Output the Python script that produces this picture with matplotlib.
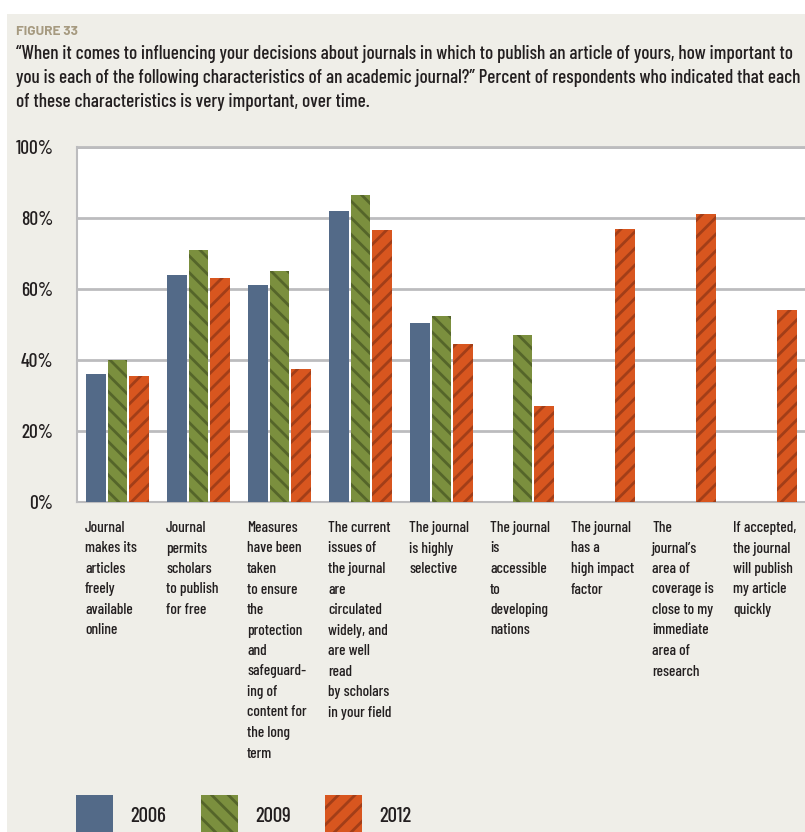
import matplotlib
matplotlib.use("Agg")
import matplotlib.pyplot as plt
from matplotlib.patches import Rectangle
import numpy as np

plt.rcParams['font.family'] = ['Barlow Condensed', 'Liberation Sans', 'DejaVu Sans']
plt.rcParams['font.weight'] = 500
plt.rcParams['hatch.linewidth'] = 2.0

categories = [
    "Journal\nmakes its\narticles\nfreely\navailable\nonline",
    "Journal\npermits\nscholars\nto publish\nfor free",
    "Measures\nhave been\ntaken\nto ensure\nthe\nprotection\nand\nsafeguard-\ning of\ncontent for\nthe long\nterm",
    "The current\nissues of\nthe journal\nare\ncirculated\nwidely, and\nare well\nread\nby scholars\nin your field",
    "The journal\nis highly\nselective",
    "The journal\nis\naccessible\nto\ndeveloping\nnations",
    "The journal\nhas a\nhigh impact\nfactor",
    "The\njournal\u2019s\narea of\ncoverage is\nclose to my\nimmediate\narea of\nresearch",
    "If accepted,\nthe journal\nwill publish\nmy article\nquickly",
]
years = ["2006", "2009", "2012"]
v2006 = [36, 64, 61, 82, 50.5, np.nan, np.nan, np.nan, np.nan]
v2009 = [40, 71, 65, 86.5, 52.5, 47, np.nan, np.nan, np.nan]
v2012 = [35.5, 63, 37.5, 76.5, 44.5, 27, 77, 81, 54]
yticks = [0, 20, 40, 60, 80, 100]

title_lines = [
    "\u201cWhen it comes to influencing your decisions about journals in which to publish an article of yours, how important to",
    "you is each of the following characteristics of an academic journal?\u201d Percent of respondents who indicated that each",
    "of these characteristics is very important, over time.",
]

BEIGE = '#efeee8'
BLUE = '#536a88'
GREEN = '#7b8f3e'
GREEN_H = '#55652a'
ORANGE = '#d8561f'
ORANGE_H = '#a23e18'
TXT = '#231f20'
GRID = '#bcbcbe'

W, H = 805, 832
fig = plt.figure(figsize=(W / 100, H / 100), dpi=100, facecolor='white')
fig.patches.append(Rectangle((7 / W, 0), 1, (H - 14) / H, transform=fig.transFigure,
                             facecolor=BEIGE, edgecolor='none', zorder=-10))


def py(y):
    # pixel row from the top -> figure fraction
    return 1 - y / H


# header
fig.text(16 / W, py(35), "FIGURE 33", fontsize=9.8, fontweight='bold',
         family=['Barlow', 'DejaVu Sans'], color='#a69a80', va='baseline', ha='left')
for k, line in enumerate(title_lines):
    fig.text(16 / W, py(59 + 24 * k), line, fontsize=13.8, color=TXT,
             va='baseline', ha='left')

ax = fig.add_axes([77 / W, (H - 502) / H, 729 / W, 355 / H])
ax.set_facecolor('white')

x = np.arange(len(categories))
bw = 0.245
off = 0.262
ax.bar(x - off, v2006, bw, color=BLUE, linewidth=0, zorder=3)
ax.bar(x, v2009, bw, color=GREEN, edgecolor=GREEN_H, hatch='\\\\', linewidth=0, zorder=3)
ax.bar(x + off, v2012, bw, color=ORANGE, edgecolor=ORANGE_H, hatch='//', linewidth=0, zorder=3)

ax.set_xlim(-0.5, len(categories) - 0.5)
ax.set_ylim(0, 100)
ax.set_yticks(yticks)
ax.set_yticklabels([f"{t}%" for t in yticks], fontsize=14, color=TXT)
ax.tick_params(axis='y', length=0, pad=17)
ax.set_xticks([])
ax.grid(axis='y', color=GRID, linewidth=2, zorder=1)
for s in ['left', 'top', 'bottom']:
    ax.spines[s].set_color(GRID)
    ax.spines[s].set_linewidth(1.5)
ax.spines['right'].set_visible(False)
ax.spines['top'].set_linewidth(2)

# category labels, left-aligned under each group, one row per line
for i, lab in enumerate(categories):
    gx = 85 + 81 * i
    for k, line in enumerate(lab.split("\n")):
        fig.text(gx / W, py(532 + 20.5 * k), line, fontsize=11.1, color=TXT,
                 va='baseline', ha='left')

# legend
items = [(BLUE, None, None), (GREEN, GREEN_H, '\\\\'), (ORANGE, ORANGE_H, '//')]
lx = [76, 201, 325]
for (fc, hc, hatch), px, yr in zip(items, lx, years):
    fig.patches.append(Rectangle((px / W, 0), 37 / W, 37 / H, transform=fig.transFigure,
                                 facecolor=fc, edgecolor=hc if hc else fc, hatch=hatch,
                                 linewidth=0))
    fig.text((px + 54) / W, py(822), yr, fontsize=15, color=TXT, va='baseline', ha='left')

fig.savefig('out.png', dpi=100, facecolor=fig.get_facecolor())
